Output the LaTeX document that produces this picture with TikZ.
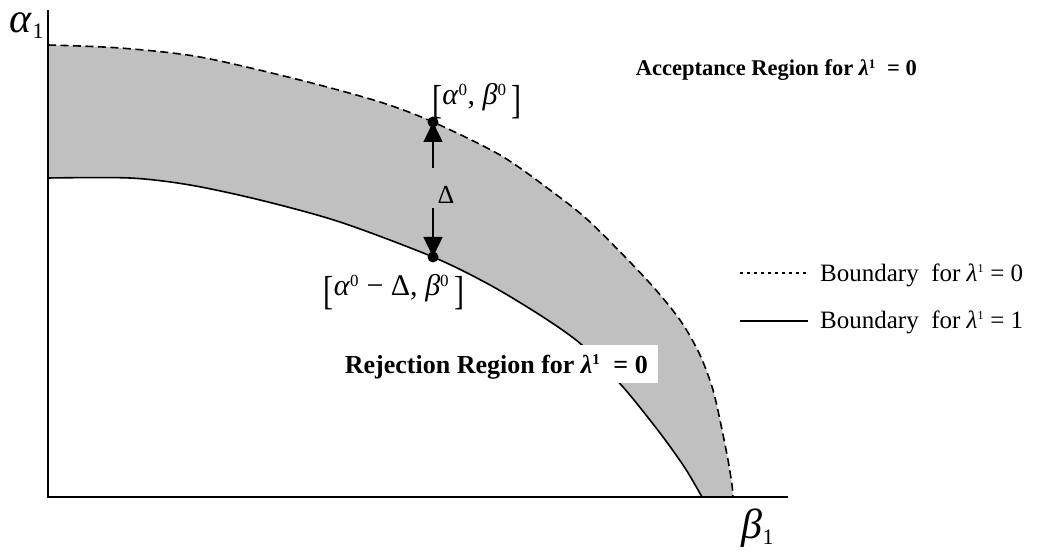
\documentclass[tikz,border=0pt]{standalone}
\usepackage{fontspec}
\setmainfont{Liberation Serif}
\usetikzlibrary{arrows.meta}
\newcommand{\tallbrL}{\raisebox{-0.28em}{\scalebox{1}[1.35]{[}}}
\newcommand{\tallbrR}{\raisebox{-0.28em}{\scalebox{1}[1.35]{]}}}
\begin{document}
\begin{tikzpicture}[x=1pt,y=-1pt,
  curve/.style={line width=1.6pt},
  dashcurve/.style={line width=1.6pt,dash pattern=on 8pt off 4.5pt},
  dotline/.style={line width=1.5pt,dash pattern=on 3pt off 4pt},
  axis/.style={line width=1.6pt},
  dotpt/.style={circle,fill=black,inner sep=0pt,minimum size=11pt},
  arr/.style={line width=1.4pt,-{Triangle[length=20pt,width=19pt]}},
  lbl/.style={inner sep=0pt,font=\fontsize{25}{29}\selectfont},
  blbl/.style={inner sep=0pt,font=\fontsize{22.5}{26}\selectfont\bfseries},
  ptlbl/.style={inner sep=0pt,font=\fontsize{30}{34}\selectfont},
  axlbl/.style={inner sep=0pt,font=\fontsize{42}{46}\selectfont}
]
\useasboundingbox (0,0) rectangle (1039,553);
\definecolor{bandgray}{RGB}{192,192,192}
% shaded band
\fill[bandgray] plot[smooth] coordinates {(48,45) (120,48) (200,57) (300,80) (380,102) (433,122) (500,155) (550,190) (590,222) (647,280) (680,320) (700,355) (713,390) (721,425) (728,460) (732,485) (733,497)}
  -- plot[smooth] coordinates {(702,497) (685,468) (660,433) (623,387) (582,345) (543,317) (490,285) (433,257) (340,222) (260,200) (190,185) (130,178) (48,178)} -- cycle;
% curves
\draw[dashcurve] plot[smooth] coordinates {(48,45) (120,48) (200,57) (300,80) (380,102) (433,122) (500,155) (550,190) (590,222) (647,280) (680,320) (700,355) (713,390) (721,425) (728,460) (732,485) (733,497)};
\draw[curve] plot[smooth] coordinates {(48,178) (130,178) (190,185) (260,200) (340,222) (433,257) (490,285) (543,317) (582,345) (623,387) (660,433) (685,468) (702,497)};
% axes
\coordinate (ytop) at (48,10);
\coordinate (origin) at (48,497);
\coordinate (xend) at (788,497);
\draw[axis] (ytop) -- (origin) -- (xend);
\node[axlbl] (alab) at (27,26) {\textit{α}\textsubscript{\fontsize{22}{24}\selectfont 1}};
\node[axlbl] (blab) at (758,528) {\textit{β}\textsubscript{\fontsize{22}{24}\selectfont 1}};
% points
\node[dotpt] (top) at (433,122) {};
\node[dotpt] (bot) at (433,257) {};
\node[ptlbl] (toplab) at (477,101) {\tallbrL\textit{α}\textsuperscript{\fontsize{17}{18}\selectfont 0}, \textit{β}\textsuperscript{\fontsize{17}{18}\selectfont 0}\,\tallbrR};
\node[ptlbl] (botlab) at (394,292) {\tallbrL\textit{α}\textsuperscript{\fontsize{17}{18}\selectfont 0} − Δ, \textit{β}\textsuperscript{\fontsize{17}{18}\selectfont 0}\,\tallbrR};
\node[inner sep=0pt,font=\fontsize{26}{30}\selectfont] (delta) at (446,195) {Δ};
\coordinate (du) at (433,168);
\coordinate (dd) at (433,208);
\draw[arr] (du) -- (top.center);
\draw[arr] (dd) -- (bot.center);
% region labels
\node[blbl,anchor=east] (acc) at (917,70) {Acceptance Region for \textit{λ}\textsuperscript{\fontsize{13}{14}\selectfont 1}\ \ = 0};
\node[blbl,font=\fontsize{26}{30}\selectfont\bfseries,fill=white,anchor=east,inner xsep=10pt,minimum height=38pt,text depth=0pt] (rej) at (658,364) {Rejection Region for \textit{λ}\textsuperscript{\fontsize{15}{16}\selectfont 1}\ \ = 0};
% legend
\coordinate (l0a) at (740,273);
\coordinate (l0b) at (808,273);
\coordinate (l1a) at (740,321);
\coordinate (l1b) at (808,321);
\draw[dotline] (l0a) -- (l0b);
\draw[curve] (l1a) -- (l1b);
\node[lbl,anchor=west] (leg0) at (820,275) {Boundary\ \ for \textit{λ}\textsuperscript{\fontsize{12}{14}\selectfont 1}\ = 0};
\node[lbl,anchor=west] (leg1) at (820,322) {Boundary\ \ for \textit{λ}\textsuperscript{\fontsize{12}{14}\selectfont 1}\ = 1};
\end{tikzpicture}
\end{document}
